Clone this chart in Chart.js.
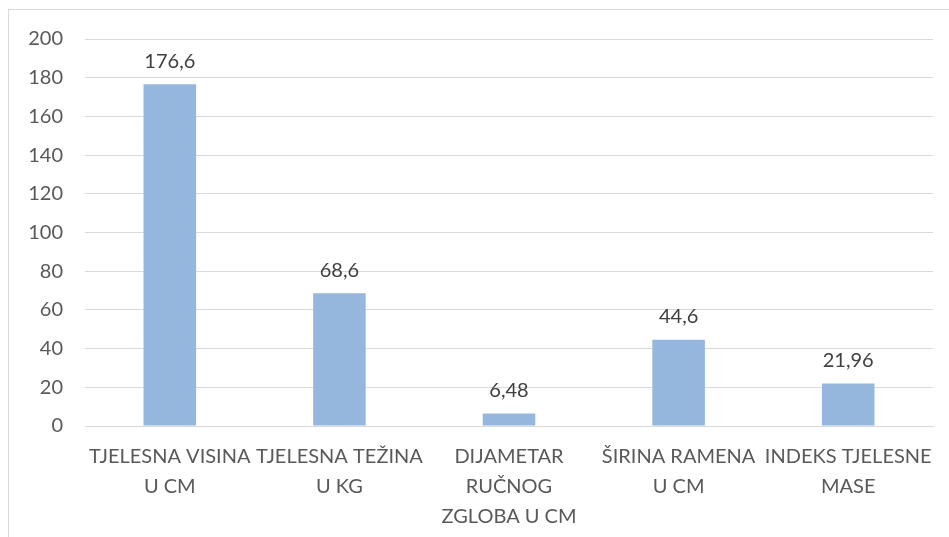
<!DOCTYPE html>
<html>
<head>
<meta charset="utf-8">
<script src="https://cdn.jsdelivr.net/npm/chart.js@4"></script>
<style>
  body { margin: 0; background: #fff; }
  .frame {
    position: absolute; left: 8px; top: 9px; width: 950px; height: 540px;
    border: 1px solid #d9d9d9; box-sizing: border-box;
  }
  canvas { position: absolute; left: 0; top: 0; }
</style>
</head>
<body>
<div class="frame"></div>
<canvas id="chart" width="949" height="537"></canvas>
<script>
const categories = [
  ['TJELESNA VISINA', 'U CM'],
  ['TJELESNA TEŽINA', 'U KG'],
  ['DIJAMETAR', 'RUČNOG', 'ZGLOBA U CM'],
  ['ŠIRINA RAMENA', 'U CM'],
  ['INDEKS TJELESNE', 'MASE']
]
const values = [176.6, 68.6, 6.48, 44.6, 21.96]
const valueLabels = ['176,6', '68,6', '6,48', '44,6', '21,96']

const textColor = '#595959'
const fontFamily = 'Lato, "Open Sans", sans-serif'

// writes each value just above its bar
const barValues = {
  id: 'barValues',
  afterDatasetsDraw(chart) {
    const ctx = chart.ctx
    const meta = chart.getDatasetMeta(0)
    ctx.save()
    ctx.font = '20px ' + fontFamily
    ctx.fillStyle = '#404040'
    ctx.textAlign = 'center'
    ctx.textBaseline = 'bottom'
    meta.data.forEach((bar, i) => {
      ctx.fillText(valueLabels[i], bar.x, bar.y - 13)
    })
    ctx.restore()
  }
}

new Chart(document.getElementById('chart'), {
  type: 'bar',
  data: {
    labels: categories,
    datasets: [{
      data: values,
      backgroundColor: '#95b7de',
      borderWidth: 0,
      categoryPercentage: 1,
      barPercentage: 0.31
    }]
  },
  options: {
    responsive: false,
    animation: false,
    layout: { padding: { top: 39, right: 14, left: 0, bottom: 0 } },
    plugins: { legend: { display: false }, tooltip: { enabled: false } },
    scales: {
      x: {
        grid: { display: false, drawTicks: false },
        border: { display: true, color: '#d9d9d9', width: 1 },
        ticks: {
          color: textColor,
          font: { family: fontFamily, size: 20, lineHeight: 1.5 },
          padding: 16,
          maxRotation: 0,
          autoSkip: false
        },
        afterFit(scale) { scale.height = 111 }
      },
      y: {
        min: 0,
        max: 200,
        grid: { color: '#d9d9d9', drawTicks: false },
        border: { display: false },
        ticks: {
          stepSize: 20,
          color: textColor,
          font: { family: fontFamily, size: 20 },
          padding: 22
        },
        afterFit(scale) { scale.width = 85 }
      }
    }
  },
  plugins: [barValues]
})
</script>
</body>
</html>
